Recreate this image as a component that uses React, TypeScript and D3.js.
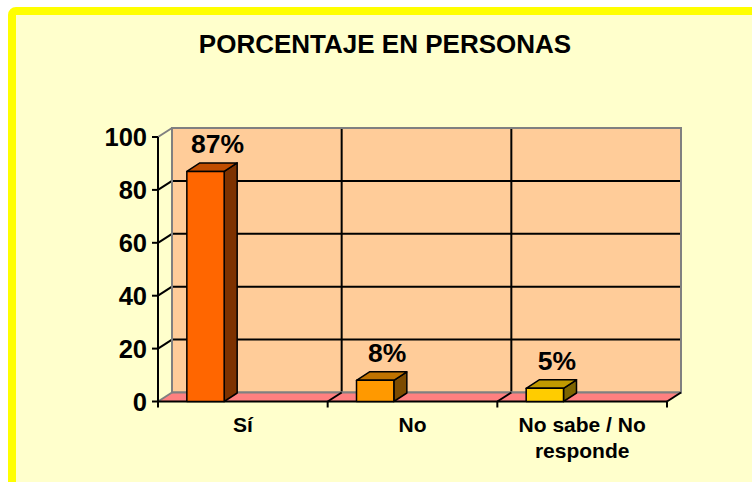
import React from "react";
import * as d3 from "d3";

// chart data
const categories = ["Sí", "No", "No sabe / No responde"];
const categoryLines = [["Sí"], ["No"], ["No sabe / No", "responde"]];
const values = [87, 8, 5];
const valueLabels = ["87%", "8%", "5%"];
const barColors = ["#FF6600", "#FF9900", "#FFCC00"];
const yTicks = [0, 20, 40, 60, 80, 100];

const width = 752, height = 482;
const DX = 14, DY = -9; // wall depth
const BDX = 13, BDY = -8.5; // bar depth
const FONT = "'Liberation Sans', Arial, sans-serif";

const pts = (arr: number[][]) => arr.map(p => p.join(",")).join(" ");

const App = () => {
  const x = d3.scaleBand().domain(categories).range([158, 667]).padding(0);
  const y = d3.scaleLinear().domain([0, 100]).range([401.5, 137]);
  const bw = x.bandwidth();
  const [x0, x1] = x.range();
  const y0 = y(0), yTop = y(100);

  return (
    <svg width={width} height={height} style={{ position: "absolute", left: 0, top: 0 }}>
      {/* chart area with yellow border */}
      <rect x={12} y={11} width={800} height={520} rx={4} fill="#FFFFCC" stroke="#FFFF00" strokeWidth={8} />

      <text x={385} y={53} textAnchor="middle" fontFamily={FONT} fontWeight="bold" fontSize={26}>
        PORCENTAJE EN PERSONAS
      </text>

      {/* back wall */}
      <rect x={x0 + DX} y={yTop + DY} width={x1 - x0} height={y0 - yTop} fill="#FFCC99" />
      {yTicks.filter(t => t > 0 && t < 100).map(t => (
        <g key={"g" + t}>
          <line x1={x0 + DX} x2={x1 + DX} y1={y(t) + DY} y2={y(t) + DY} stroke="#000" strokeWidth={2} />
          <line x1={x0} x2={x0 + DX} y1={y(t)} y2={y(t) + DY} stroke="#000" strokeWidth={2} />
        </g>
      ))}
      {categories.slice(1).map(c => (
        <line key={"v" + c} x1={x(c)! + DX} x2={x(c)! + DX} y1={yTop + DY} y2={y0 + DY} stroke="#000" strokeWidth={2} />
      ))}
      <rect x={x0 + DX} y={yTop + DY} width={x1 - x0} height={y0 - yTop} fill="none" stroke="#808080" strokeWidth={2} />
      <line x1={x0} x2={x0 + DX} y1={yTop} y2={yTop + DY} stroke="#808080" strokeWidth={2} />

      {/* floor */}
      <polygon points={pts([[x0, y0], [x1, y0], [x1 + DX, y0 + DY], [x0 + DX, y0 + DY]])} fill="#FF8080" />
      <line x1={x0 + DX} x2={x1 + DX} y1={y0 + DY} y2={y0 + DY} stroke="#808080" strokeWidth={2} />
      <line x1={x0} x2={x0 + DX} y1={y0} y2={y0 + DY} stroke="#808080" strokeWidth={2} />
      {categories.slice(1).map(c => (
        <line key={"f" + c} x1={x(c)!} x2={x(c)! + DX} y1={y0} y2={y0 + DY} stroke="#000" strokeWidth={2} />
      ))}
      <line x1={x1} x2={x1 + DX} y1={y0} y2={y0 + DY} stroke="#000" strokeWidth={2} />

      {/* axes */}
      <line x1={x0} x2={x0} y1={yTop} y2={y0} stroke="#000" strokeWidth={2} />
      <line x1={x0} x2={x1} y1={y0} y2={y0} stroke="#000" strokeWidth={2} />
      {yTicks.map(t => (
        <g key={"t" + t}>
          <line x1={x0 - 6} x2={x0} y1={y(t)} y2={y(t)} stroke="#000" strokeWidth={2} />
          <text x={147} y={y(t)} dy="0.36em" textAnchor="end" fontFamily={FONT} fontWeight="bold" fontSize={25.5}>
            {t}
          </text>
        </g>
      ))}
      {[...categories.map(c => x(c)!), x1].map((px, i) => (
        <line key={"xt" + i} x1={px} x2={px} y1={y0} y2={y0 + 6} stroke="#000" strokeWidth={2} />
      ))}

      {/* bars */}
      {categories.map((c, i) => {
        const bx = x(c)! + bw * 0.17;
        const w = bw * 0.22;
        const yt = y(values[i]);
        const col = d3.color(barColors[i])!;
        const top = d3.rgb(col).darker(0.8).formatHex();
        const side = d3.rgb(col).darker(2).formatHex();
        return (
          <g key={"b" + c} stroke="#000" strokeWidth={1.5} strokeLinejoin="round">
            <polygon points={pts([[bx + w, yt], [bx + w + BDX, yt + BDY], [bx + w + BDX, y0 + BDY], [bx + w, y0]])} fill={side} />
            <polygon points={pts([[bx, yt], [bx + w, yt], [bx + w + BDX, yt + BDY], [bx + BDX, yt + BDY]])} fill={top} />
            <rect x={bx} y={yt} width={w} height={y0 - yt} fill={barColors[i]} />
            <text x={bx + w / 2 + 12} y={yt - 18} textAnchor="middle" stroke="none" fontFamily={FONT} fontWeight="bold" fontSize={26.5}>
              {valueLabels[i]}
            </text>
          </g>
        );
      })}

      {/* category labels */}
      {categories.map((c, i) => (
        <text key={"c" + c} x={x(c)! + bw / 2} y={432} textAnchor="middle" fontFamily={FONT} fontWeight="bold" fontSize={21}>
          {categoryLines[i].map((l, j) => (
            <tspan key={j} x={x(c)! + bw / 2} dy={j === 0 ? 0 : 26}>{l}</tspan>
          ))}
        </text>
      ))}
    </svg>
  );
};

export default App;
